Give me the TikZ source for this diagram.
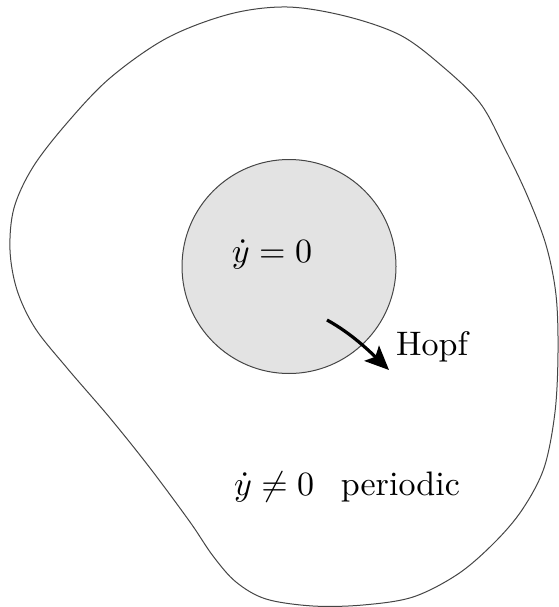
\documentclass[tikz,border=0pt]{standalone}
\usetikzlibrary{arrows.meta}
\definecolor{diskfill}{HTML}{E3E3E3}
\definecolor{edge}{HTML}{454545}
\tikzset{
  region/.style={draw=edge, line width=1pt},
  lbl/.style={inner sep=0pt, anchor=base, scale=3.4},
  hopfarrow/.style={line width=3.2pt, -{Stealth[length=24pt,width=21pt,inset=5pt]}}
}
\begin{document}
\begin{tikzpicture}[x=1pt,y=-1pt]
\useasboundingbox (0,0) rectangle (558,607);
\draw[region] plot[smooth cycle, tension=0.55] coordinates {
 (287,7) (345,16) (400,35) (442,66) (480,103) (504,147) (527,195) (546,245)
 (556,295) (558,352) (555,412) (544,468) (522,510) (494,543) (458,574)
 (413,597) (363,605) (313,606) (266,599) (236,582) (213,556) (190,522)
 (150,468) (110,418) (67,368) (35,328) (17,290) (10,250) (14,208)
 (33,167) (67,123) (110,78) (167,38) (230,14) };
\node[region, fill=diskfill, circle, minimum size=214pt, inner sep=0pt] (eq) at (289,266.5) {};
\node[lbl] (yzero) at (272,262) {$\dot y = 0$};
\node[lbl] (hopf) at (432,355) {Hopf};
\node[lbl] (periodic) at (347,495) {$\dot y \neq 0$\hspace{0.78em}periodic};
\coordinate (hs) at (327,320);
\coordinate (he) at (389,370);
\draw[hopfarrow] (hs) .. controls (345,330) and (360,342) .. (he);
\end{tikzpicture}
\end{document}
